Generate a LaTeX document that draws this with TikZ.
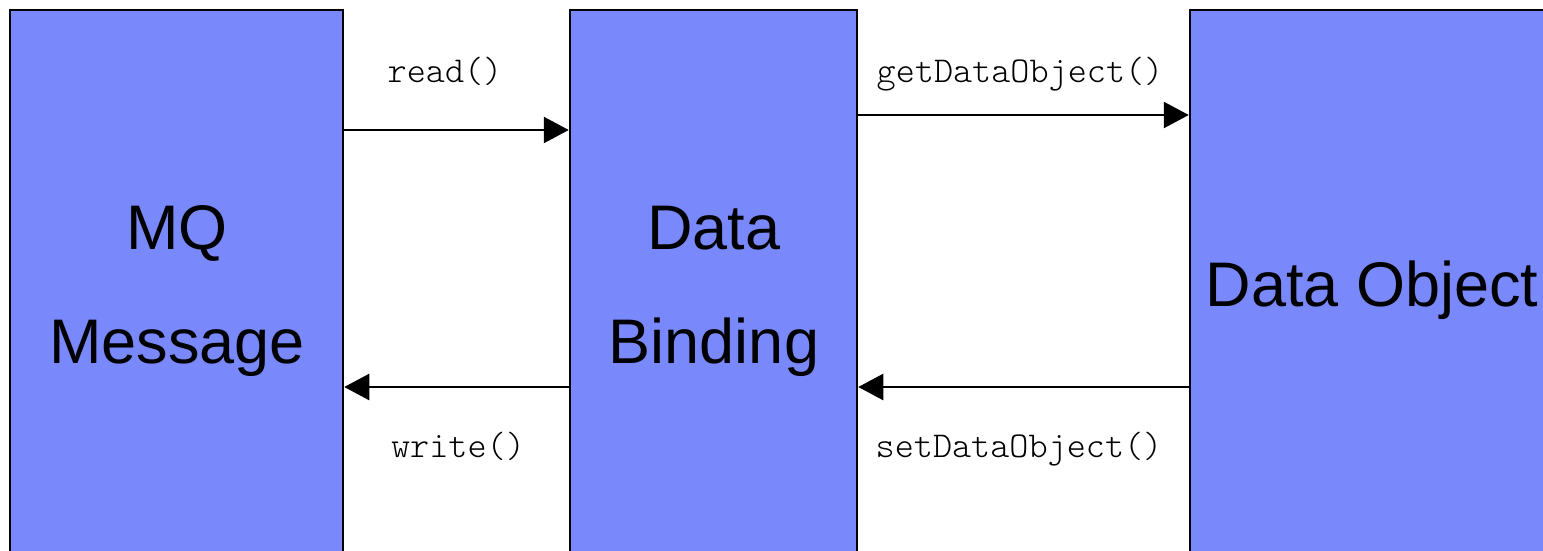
\documentclass[tikz,border=0pt]{standalone}
\usepackage{fontspec}
\setmainfont{Liberation Sans}
\setmonofont{Latin Modern Mono Light}
\usetikzlibrary{arrows.meta}
\definecolor{boxblue}{HTML}{7989FB}
\tikzset{
  block/.style={draw=black, fill=boxblue, line width=2.5pt, rectangle, inner sep=0pt},
  blocktext/.style={font=\fontsize{63}{114}\selectfont, align=center, inner sep=0pt},
  call/.style={font=\ttfamily\fontsize{36.4}{40}\selectfont, inner sep=0pt, anchor=base},
  arr/.style={line width=2.5pt, -{Triangle[length=25pt, width=26pt]}}
}
\begin{document}
\begin{tikzpicture}[x=1pt, y=-1pt]
  \clip (0,0) rectangle (1543,551);
  \fill[white] (0,0) rectangle (1543,551);

  % the three components (they run off the lower and right edges)
  \node[block, minimum width=333pt, minimum height=580pt] (mq) at (176.5,300) {};
  \node[block, minimum width=287pt, minimum height=580pt] (db) at (713.5,300) {};
  \node[block, minimum width=400pt, minimum height=580pt] (do) at (1390,300) {};

  \node[blocktext] (mqtext) at (177,291) {MQ\\Message};
  \node[blocktext] (dbtext) at (714,291) {Data\\Binding};
  \node[blocktext] (dotext) at (1372,290) {Data Object};

  % calls between the components
  \draw[arr] (mq.east |- 0,130) -- (db.west |- 0,130);
  \draw[arr] (db.east |- 0,115) -- (do.west |- 0,115);
  \draw[arr] (db.west |- 0,387) -- (mq.east |- 0,387);
  \draw[arr] (do.west |- 0,387) -- (db.east |- 0,387);

  \node[call] (lread) at (445,82) {read()};
  \node[call] (lget) at (1020,82) {getDataObject()};
  \node[call] (lwrite) at (458,457) {write()};
  \node[call] (lset) at (1019,457) {setDataObject()};
\end{tikzpicture}
\end{document}
